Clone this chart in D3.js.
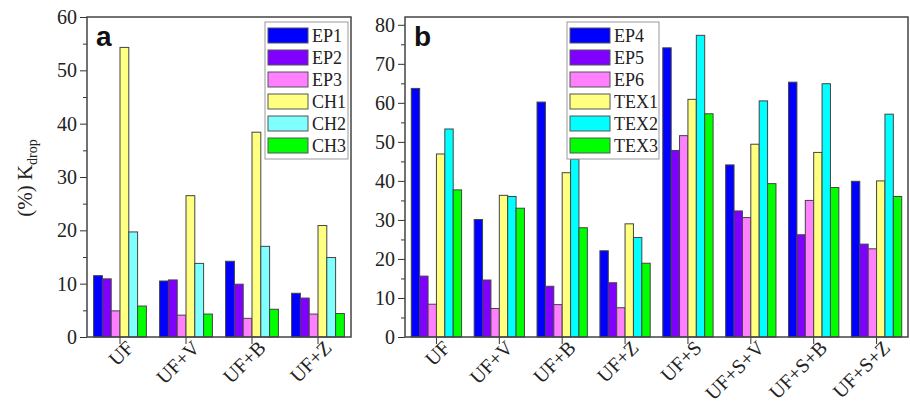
<!DOCTYPE html>
<html>
<head>
<meta charset="utf-8">
<script src="https://cdn.jsdelivr.net/npm/d3@7"></script>
<style>
  body { margin: 0; background: #fff; }
  svg text { font-family: "Liberation Serif", "Times New Roman", serif; fill: #222; }
  .domain, .tick line { stroke: #333; }
</style>
</head>
<body>
<div id="chart"></div>
<script>
// panel a
const catsA = ['UF', 'UF+V', 'UF+B', 'UF+Z'];
const seriesA = ['EP1', 'EP2', 'EP3', 'CH1', 'CH2', 'CH3'];
const valuesA = [
  [11.5, 10.9, 4.9, 54.3, 19.7, 5.8],
  [10.5, 10.7, 4.1, 26.5, 13.8, 4.3],
  [14.2, 9.9, 3.5, 38.4, 17.0, 5.2],
  [8.2, 7.3, 4.3, 20.9, 14.9, 4.4]
];
const colorsA = ['#0000ff', '#8000ff', '#ff80ff', '#ffff80', '#80ffff', '#00ff00'];
const ticksA = [0, 10, 20, 30, 40, 50, 60];

// panel b
const catsB = ['UF', 'UF+V', 'UF+B', 'UF+Z', 'UF+S', 'UF+S+V', 'UF+S+B', 'UF+S+Z'];
const seriesB = ['EP4', 'EP5', 'EP6', 'TEX1', 'TEX2', 'TEX3'];
const valuesB = [
  [63.7, 15.6, 8.4, 46.9, 53.3, 37.7],
  [30.1, 14.6, 7.3, 36.3, 36.0, 33.0],
  [60.2, 13.0, 8.3, 42.1, 45.6, 28.0],
  [22.1, 13.9, 7.5, 29.0, 25.5, 18.9],
  [74.1, 47.8, 51.6, 60.9, 77.3, 57.2],
  [44.1, 32.3, 30.6, 49.4, 60.5, 39.3],
  [65.3, 26.2, 35.0, 47.3, 64.9, 38.3],
  [39.9, 23.8, 22.6, 40.0, 57.1, 36.0]
];
const colorsB = ['#0000ff', '#8000ff', '#ff80ff', '#ffff80', '#00ffff', '#00ff00'];
const ticksB = [0, 10, 20, 30, 40, 50, 60, 70, 80];

const svg = d3.select('#chart').append('svg')
  .attr('width', 910)
  .attr('height', 406);

function panel(opt) {
  const g = svg.append('g');
  const x = d3.scaleBand()
    .domain(opt.cats)
    .range([opt.left, opt.right])
    .paddingInner(0.2)
    .paddingOuter(0.1);
  const xs = d3.scaleBand()
    .domain(opt.series)
    .range([0, x.bandwidth()]);
  const y = d3.scaleLinear()
    .domain([0, opt.ymax])
    .range([opt.bottom, opt.top]);

  // minor ticks
  g.append('g')
    .attr('transform', 'translate(' + opt.left + ',0)')
    .call(d3.axisLeft(y).tickValues(opt.ticks.slice(0, -1).map(d => d + 5).filter(d => d <= opt.ymax))
      .tickSize(4).tickFormat(''))
    .call(s => s.select('.domain').remove());

  // y axis
  g.append('g')
    .attr('transform', 'translate(' + opt.left + ',0)')
    .call(d3.axisLeft(y).tickValues(opt.ticks).tickSize(7).tickPadding(3).tickSizeOuter(0))
    .call(s => s.selectAll('text').style('font-size', '20px'))
    .call(s => s.select('.domain').remove());

  // x axis
  g.append('g')
    .attr('transform', 'translate(0,' + opt.bottom + ')')
    .call(d3.axisBottom(x).tickSize(7).tickSizeOuter(0))
    .call(s => s.select('.domain').remove())
    .selectAll('text')
    .style('font-size', '20px')
    .style('text-anchor', 'end')
    .attr('dx', '0.1em')
    .attr('dy', '0.45em')
    .attr('transform', 'rotate(-45)');

  // bars
  const grp = g.selectAll('.grp')
    .data(opt.values)
    .enter().append('g')
    .attr('transform', (d, i) => 'translate(' + x(opt.cats[i]) + ',0)');

  grp.selectAll('rect')
    .data(d => d)
    .enter().append('rect')
    .attr('x', (d, i) => xs(opt.series[i]))
    .attr('y', d => y(d))
    .attr('width', xs.bandwidth())
    .attr('height', d => opt.bottom - y(d))
    .attr('fill', (d, i) => opt.colors[i])
    .attr('stroke', '#444')
    .attr('stroke-width', 1);

  // frame
  g.append('rect')
    .attr('x', opt.left)
    .attr('y', opt.top)
    .attr('width', opt.right - opt.left)
    .attr('height', opt.bottom - opt.top)
    .attr('fill', 'none')
    .attr('stroke', '#444')
    .attr('stroke-width', 1.5);

  // panel letter
  g.append('text')
    .attr('x', opt.left + 9)
    .attr('y', opt.top + 29)
    .style('font-family', '"Liberation Sans", Arial, sans-serif')
    .style('font-weight', 'bold')
    .style('font-size', '28px')
    .style('fill', '#111')
    .text(opt.letter);

  // legend
  const lg = g.append('g')
    .attr('transform', 'translate(' + opt.legX + ',' + (opt.top + 5) + ')');
  lg.append('rect')
    .attr('width', opt.legW)
    .attr('height', 137)
    .attr('fill', '#fff')
    .attr('stroke', '#999')
    .attr('stroke-width', 1);
  const item = lg.selectAll('.item')
    .data(opt.series)
    .enter().append('g')
    .attr('transform', (d, i) => 'translate(3,' + (6 + i * 22) + ')');
  item.append('rect')
    .attr('width', 40)
    .attr('height', 15)
    .attr('fill', (d, i) => opt.colors[i])
    .attr('stroke', '#555');
  item.append('text')
    .attr('x', 44)
    .attr('y', 14)
    .style('font-size', '18px')
    .text(d => d);
}

panel({
  cats: catsA, series: seriesA, values: valuesA, colors: colorsA, ticks: ticksA,
  ymax: 60, left: 87, right: 351, top: 17, bottom: 337,
  letter: 'a', legX: 265, legW: 83
});

panel({
  cats: catsB, series: seriesB, values: valuesB, colors: colorsB, ticks: ticksB,
  ymax: 82, left: 405, right: 908, top: 17, bottom: 337,
  letter: 'b', legX: 567, legW: 92
});

// y axis label
const yl = svg.append('text')
  .attr('transform', 'translate(32,178) rotate(-90)')
  .style('text-anchor', 'middle')
  .style('font-size', '21px');
yl.append('tspan').text('(%) K');
yl.append('tspan').attr('dy', 5).style('font-size', '14px').text('drop');
</script>
</body>
</html>
